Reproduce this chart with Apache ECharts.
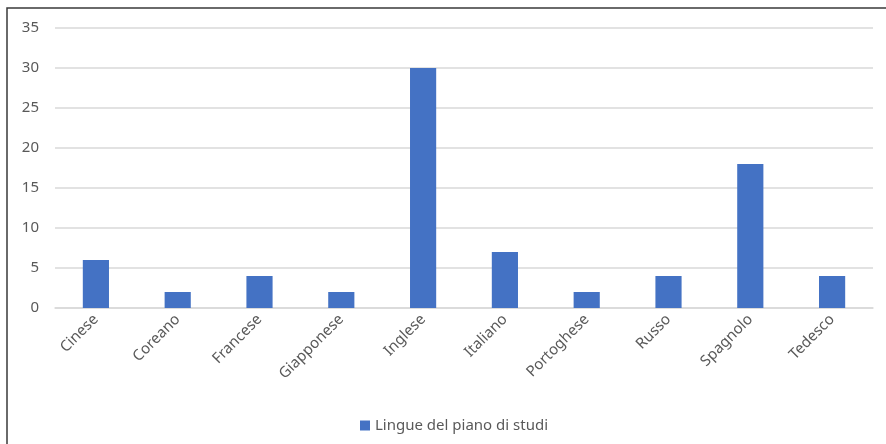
<!DOCTYPE html>
<html>
<head>
<meta charset="utf-8">
<script src="https://cdn.jsdelivr.net/npm/echarts@6/dist/echarts.min.js"></script>
<style>
  html, body { margin: 0; padding: 0; background: #fff; }
  #chart { width: 886px; height: 444px; }
</style>
</head>
<body>
<div id="chart"></div>
<script>
// dati
const lingue = ['Cinese', 'Coreano', 'Francese', 'Giapponese', 'Inglese', 'Italiano', 'Portoghese', 'Russo', 'Spagnolo', 'Tedesco'];
const valori = [6, 2, 4, 2, 30, 7, 2, 4, 18, 4];
const nomeSerie = 'Lingue del piano di studi';

const chart = echarts.init(document.getElementById('chart'));

const option = {
    animation: false,
    textStyle: { fontFamily: 'Noto Sans' },
    graphic: [{
        type: 'rect',
        shape: { x: 7, y: 8, width: 960, height: 520 },
        style: { fill: 'none', stroke: '#3a3a3a', lineWidth: 1.5 },
        silent: true
    }],
    grid: { left: 55, right: 13, top: 28, bottom: 136 },
    legend: {
        bottom: 6,
        left: 355,
        itemWidth: 10,
        itemHeight: 10,
        icon: 'rect',
        textStyle: { color: '#595959', fontSize: 15 },
        data: [nomeSerie]
    },
    xAxis: {
        type: 'category',
        data: lingue,
        axisLine: { lineStyle: { color: '#d9d9d9', width: 1.5 } },
        axisTick: { show: false },
        axisLabel: { rotate: 45, color: '#595959', fontSize: 15, margin: 9, interval: 0 }
    },
    yAxis: {
        type: 'value',
        min: 0,
        max: 35,
        interval: 5,
        axisLine: { show: false },
        axisTick: { show: false },
        axisLabel: { color: '#595959', fontSize: 15, margin: 16 },
        splitLine: { lineStyle: { color: '#d9d9d9', width: 1.5 } }
    },
    series: [{
        name: nomeSerie,
        type: 'bar',
        data: valori,
        barWidth: '32%',
        itemStyle: { color: '#4472c4' }
    }]
};

chart.setOption(option);
</script>
</body>
</html>
